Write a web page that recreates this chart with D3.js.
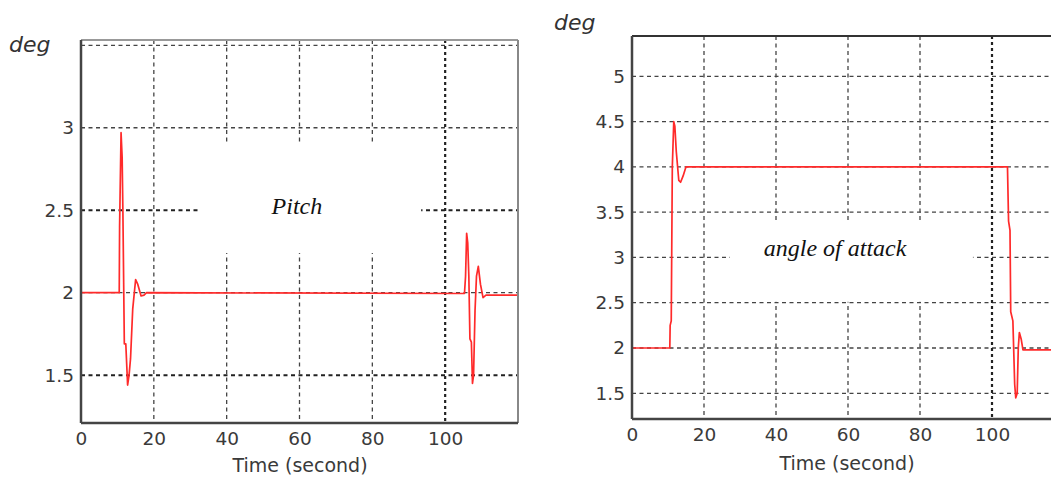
<!DOCTYPE html>
<html><head><meta charset="utf-8">
<script src="https://cdn.jsdelivr.net/npm/d3@7"></script>
<style>
body{margin:0;background:#fff;}
svg{display:block;}
.tick text{font-family:"DejaVu Sans",sans-serif;font-size:18.5px;fill:#3a3a3a;}
</style></head>
<body>
<svg id="c" width="1051" height="480"></svg>
<script>
// ---- data ----
const xTicks = [0, 20, 40, 60, 80, 100];
const xGrid = [20, 40, 60, 80, 100];
const pitchYTicks = [1.5, 2, 2.5, 3];
const pitchYGrid = [1.5, 2, 2.5, 3, 3.5];
const aoaYTicks = [1.5, 2, 2.5, 3, 3.5, 4, 4.5, 5];
const pitchT = [0, 10.5, 10.6, 11.0, 11.3, 11.5, 11.9, 12.3, 12.8, 13.2, 13.6, 14.2, 15.0, 15.6, 16.5, 17.3, 18.0,
                105.3, 105.6, 105.9, 106.2, 106.5, 106.8, 107.2, 107.5, 107.8, 108.2, 108.6, 109.1, 109.7, 110.4, 111.2, 120];
const pitchV = [2.0, 2.0, 2.4, 2.97, 2.82, 2.5, 1.69, 1.69, 1.44, 1.5, 1.6, 1.9, 2.08, 2.05, 1.98, 1.985, 2.0,
                1.995, 2.1, 2.36, 2.3, 2.1, 1.72, 1.7, 1.45, 1.5, 1.89, 2.1, 2.16, 2.05, 1.97, 1.985, 1.985];
const aoaT = [0, 10.5, 10.6, 10.9, 11.2, 11.6, 11.9, 12.3, 13.0, 13.5, 14.2, 15.0,
              104.3, 104.6, 105.0, 105.2, 105.8, 106.3, 106.6, 107.0, 107.3, 107.6, 108.1, 108.6, 120];
const aoaV = [2.0, 2.0, 2.25, 2.3, 4.0, 4.5, 4.45, 4.17, 3.85, 3.83, 3.9, 4.0,
              4.0, 3.4, 3.3, 2.4, 2.3, 1.6, 1.45, 1.5, 2.0, 2.17, 2.1, 1.98, 1.98];
// label gap boxes in data units [t0, t1, v0, v1]
const pitchGap = [32.2, 93.4, 2.24, 2.90];
const aoaGap = [27.2, 94.7, 2.51, 3.41];

const svg = d3.select("#c");

function panel(o){
  const g = svg.append("g");
  const x = d3.scaleLinear().domain(o.xDom).range(o.xRange);
  const y = d3.scaleLinear().domain(o.yDom).range(o.yRange);
  const [x0, x1] = o.xRange, [y1, y0] = o.yRange;
  const clipId = "clip" + o.id;
  svg.append("clipPath").attr("id", clipId).append("rect")
     .attr("x", x0).attr("y", y0).attr("width", x1 - x0).attr("height", y1 - y0);
  const inner = g.append("g").attr("clip-path", `url(#${clipId})`);

  inner.selectAll(".hg").data(o.yGrid).enter().append("line")
    .attr("x1", x0).attr("x2", x1)
    .attr("y1", d => y(d)).attr("y2", d => y(d))
    .attr("stroke", d => o.boldY.includes(d) ? "#222" : "#444")
    .attr("stroke-width", d => o.boldY.includes(d) ? 2 : 1.3)
    .attr("stroke-dasharray", "4,3.5");
  inner.selectAll(".vg").data(xGrid).enter().append("line")
    .attr("x1", d => x(d)).attr("x2", d => x(d))
    .attr("y1", y0).attr("y2", y1)
    .attr("stroke", d => d === 100 ? "#222" : "#444")
    .attr("stroke-width", d => d === 100 ? 2.2 : 1.3)
    .attr("stroke-dasharray", d => d === 100 ? "3,3" : "4,3.5");

  const gp = o.gap;
  inner.append("rect")
    .attr("x", x(gp[0])).attr("y", y(gp[3]))
    .attr("width", x(gp[1]) - x(gp[0])).attr("height", y(gp[2]) - y(gp[3]))
    .attr("fill", "#fff");
  inner.append("text")
    .attr("x", x(o.labelX)).attr("y", y(o.labelY))
    .attr("text-anchor", "middle").attr("dominant-baseline", "middle")
    .style("font-family", "'Liberation Serif','Times New Roman',serif")
    .style("font-style", "italic").style("font-size", o.labelSize).attr("fill", "#111")
    .text(o.label);

  const line = d3.line().x(d => x(d[0])).y(d => y(d[1]));
  inner.append("path").datum(d3.zip(o.t, o.v))
    .attr("d", line).attr("fill", "none")
    .attr("stroke", "#ff2a2a").attr("stroke-width", 1.7).attr("stroke-linejoin", "round");

  g.append("line").attr("x1", x0).attr("x2", x1).attr("y1", y0).attr("y2", y0)
    .attr("stroke", o.topColor).attr("stroke-width", 2);
  g.append("line").attr("x1", x1).attr("x2", x1).attr("y1", y0).attr("y2", y1)
    .attr("stroke", "#888").attr("stroke-width", 2);
  g.append("line").attr("x1", x0).attr("x2", x1).attr("y1", y1).attr("y2", y1)
    .attr("stroke", "#444").attr("stroke-width", 2.5);
  g.append("line").attr("x1", x0).attr("x2", x0).attr("y1", y0).attr("y2", y1)
    .attr("stroke", "#444").attr("stroke-width", 2.5);

  const ya = g.append("g").attr("transform", `translate(${x0},0)`)
    .call(d3.axisLeft(y).tickValues(o.yTicks).tickSize(0).tickPadding(7).tickFormat(d3.format("")));
  ya.select(".domain").remove();
  const xa = g.append("g").attr("transform", `translate(0,${y1})`)
    .call(d3.axisBottom(x).tickValues(xTicks).tickSize(0).tickPadding(9).tickFormat(d3.format("")));
  xa.select(".domain").remove();

  g.append("text").attr("x", o.titleX).attr("y", o.titleY)
    .attr("text-anchor", "middle")
    .style("font-family", "'DejaVu Sans',sans-serif").style("font-size", "19px")
    .attr("fill", "#3a3a3a").text("Time (second)");
  g.append("text").attr("x", o.degX).attr("y", o.degY)
    .style("font-family", "'DejaVu Sans',sans-serif").style("font-style", "italic")
    .style("font-size", "22px").attr("fill", "#333").text("deg");
}

panel({id: 1, xDom: [0, 120], xRange: [81, 518], yDom: [1.21, 3.532], yRange: [423, 40],
  yGrid: pitchYGrid, yTicks: pitchYTicks, boldY: [1.5, 2.5], t: pitchT, v: pitchV,
  gap: pitchGap, label: "Pitch", labelX: 59.3, labelY: 2.51, labelSize: "24px",
  topColor: "#999", titleX: 300, titleY: 472, degX: 9, degY: 52});
panel({id: 2, xDom: [0, 120], xRange: [632, 1064], yDom: [1.216, 5.445], yRange: [419, 36],
  yGrid: aoaYTicks, yTicks: aoaYTicks, boldY: [], t: aoaT, v: aoaV,
  gap: aoaGap, label: "angle of attack", labelX: 56.4, labelY: 3.08, labelSize: "24px",
  topColor: "#333", titleX: 847, titleY: 470, degX: 554, degY: 30});
</script>
</body></html>
